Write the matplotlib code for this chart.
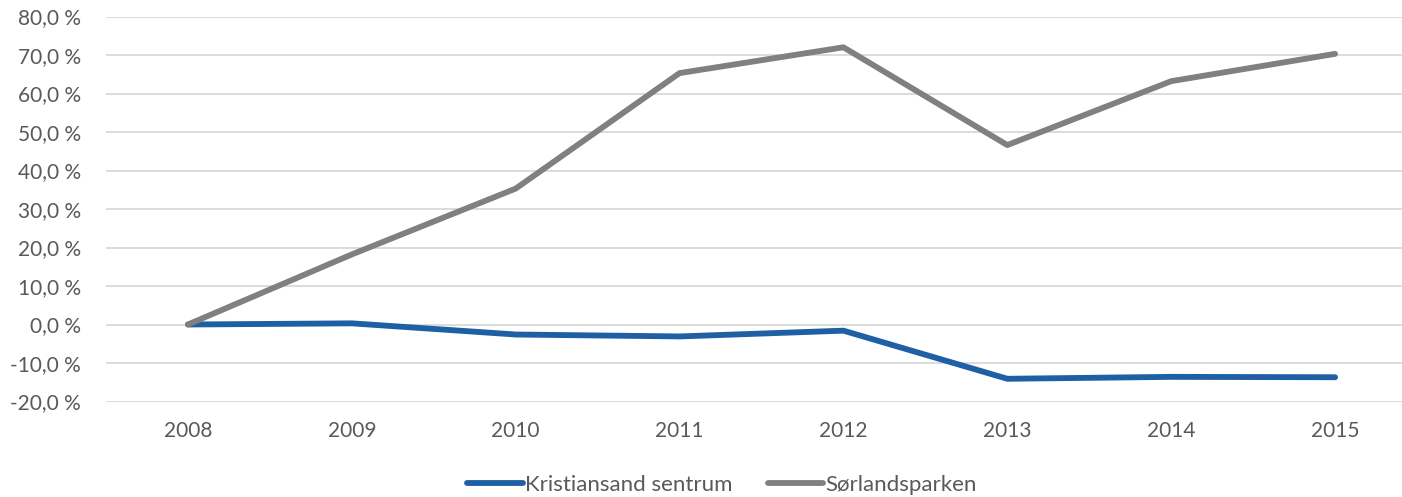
import matplotlib
matplotlib.use("Agg")
import matplotlib.pyplot as plt
from matplotlib.ticker import FuncFormatter

years = ["2008", "2009", "2010", "2011", "2012", "2013", "2014", "2015"]
kristiansand = [0.0, 0.3, -2.6, -3.1, -1.6, -14.1, -13.6, -13.7]
sorlandsparken = [0.0, 18.2, 35.3, 65.3, 72.0, 46.6, 63.2, 70.3]
series_names = ["Kristiansand sentrum", "Sørlandsparken"]

plt.rcParams['font.family'] = ['Lato', 'DejaVu Sans']
txt = '#595959'

fig = plt.figure(figsize=(14.02, 4.97), dpi=100)
ax = fig.add_axes([106/1402, 95.5/497, 1311/1402, 385/497])

x = list(range(len(years)))
ax.plot(x, kristiansand, color='#1F5FA3', lw=4.2, solid_capstyle='round', label=series_names[0], zorder=3)
ax.plot(x, sorlandsparken, color='#808080', lw=4.2, solid_capstyle='round', label=series_names[1], zorder=3)

ax.set_xlim(-0.5, 7.5)
ax.set_ylim(-20, 80)
ax.set_yticks(range(-20, 81, 10))
ax.yaxis.set_major_formatter(FuncFormatter(lambda v, p: f"{v:.1f}".replace('.', ',') + " %"))
ax.set_xticks(x)
ax.set_xticklabels(years)
ax.grid(axis='y', color='#D9D9D9', lw=1.3)
ax.set_axisbelow(True)
for s in ax.spines.values():
    s.set_visible(False)
ax.tick_params(length=0, labelsize=15, colors=txt)
ax.tick_params(axis='y', pad=18)
ax.tick_params(axis='x', pad=14)

fig.legend(loc='center', bbox_to_anchor=(722/1402, 1-485/497), ncol=2, frameon=False,
           fontsize=16, labelcolor=txt, handlelength=2.5, handletextpad=0.1, columnspacing=1.6)

fig.savefig("out.png", dpi=100)
